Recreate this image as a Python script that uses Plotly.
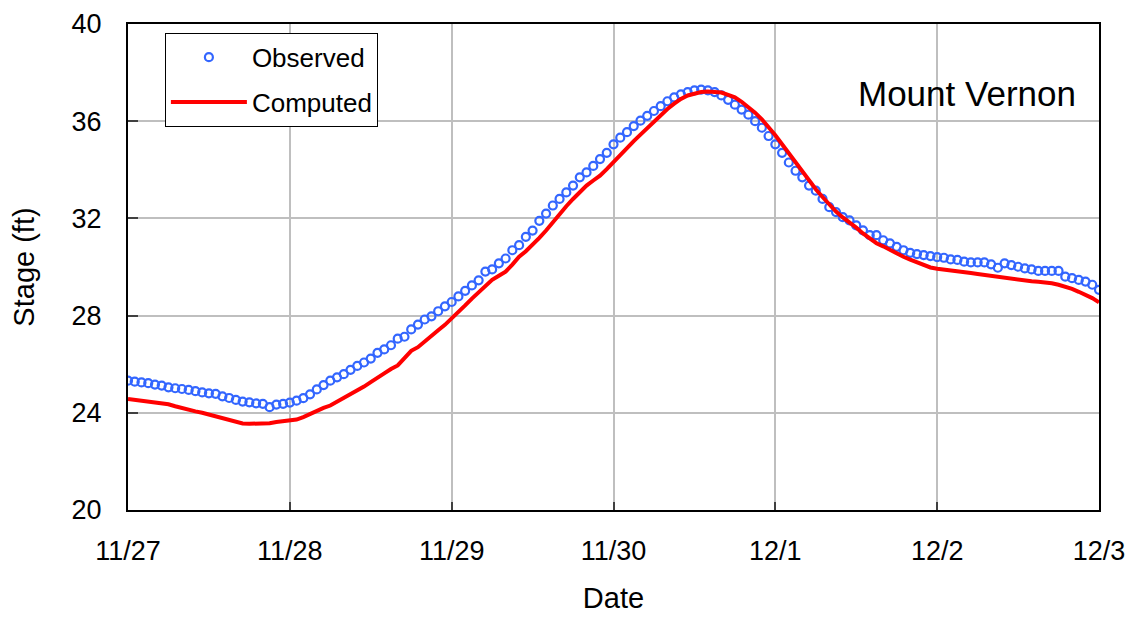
import pandas as pd
import plotly.graph_objects as go

# Hourly observed stage (ft), one list per day starting at 00:00
obs_nov27 = [25.32, 25.28, 25.25, 25.22, 25.16, 25.12, 25.05, 25.01, 24.98, 24.94, 24.89, 24.84,
             24.80, 24.78, 24.68, 24.61, 24.53, 24.46, 24.43, 24.39, 24.37, 24.23, 24.34, 24.37]
obs_nov28 = [24.42, 24.50, 24.60, 24.76, 24.96, 25.14, 25.32, 25.46, 25.59, 25.77, 25.93, 26.07,
             26.23, 26.47, 26.61, 26.78, 27.05, 27.13, 27.43, 27.63, 27.84, 27.97, 28.18, 28.38]
obs_nov29 = [28.56, 28.79, 29.02, 29.24, 29.45, 29.81, 29.90, 30.15, 30.35, 30.69, 30.90, 31.24,
             31.50, 31.90, 32.20, 32.53, 32.80, 33.07, 33.35, 33.69, 33.89, 34.16, 34.44, 34.70]
obs_nov30 = [35.05, 35.32, 35.55, 35.80, 36.02, 36.22, 36.42, 36.62, 36.82, 36.98, 37.10, 37.20,
             37.27, 37.30, 37.27, 37.20, 37.06, 36.88, 36.68, 36.48, 36.27, 36.00, 35.73, 35.39]
obs_dec01 = [35.05, 34.70, 34.30, 33.96, 33.69, 33.35, 33.14, 32.80, 32.46, 32.26, 32.05, 31.92,
             31.71, 31.51, 31.31, 31.31, 31.10, 30.97, 30.83, 30.69, 30.58, 30.53, 30.49, 30.45]
obs_dec02 = [30.41, 30.38, 30.31, 30.29, 30.22, 30.19, 30.19, 30.19, 30.11, 29.97, 30.15, 30.08,
             30.01, 29.94, 29.90, 29.84, 29.84, 29.84, 29.84, 29.60, 29.54, 29.47, 29.40, 29.27]
obs_dec03 = [29.06]

# Hourly computed stage (ft)
cmp_nov27 = [24.57, 24.54, 24.50, 24.47, 24.43, 24.41, 24.35, 24.27, 24.19, 24.13, 24.06, 24.00,
             23.93, 23.86, 23.78, 23.70, 23.62, 23.56, 23.55, 23.55, 23.55, 23.57, 23.62, 23.65]
cmp_nov28 = [23.67, 23.72, 23.82, 23.96, 24.09, 24.20, 24.30, 24.45, 24.60, 24.75, 24.92, 25.08,
             25.26, 25.46, 25.62, 25.80, 25.95, 26.25, 26.55, 26.70, 26.95, 27.18, 27.40, 27.62]
cmp_nov29 = [27.87, 28.15, 28.42, 28.70, 28.95, 29.20, 29.47, 29.64, 29.81, 30.10, 30.42, 30.65,
             30.90, 31.20, 31.50, 31.85, 32.20, 32.50, 32.80, 33.08, 33.35, 33.56, 33.76, 34.03]
cmp_nov30 = [34.33, 34.62, 34.92, 35.18, 35.45, 35.72, 35.98, 36.25, 36.50, 36.72, 36.92, 37.06,
             37.15, 37.20, 37.22, 37.21, 37.18, 37.08, 36.98, 36.80, 36.60, 36.35, 36.08, 35.78]
cmp_dec01 = [35.42, 35.05, 34.68, 34.30, 33.90, 33.52, 33.20, 32.88, 32.57, 32.28, 32.04, 31.84,
             31.62, 31.38, 31.16, 30.98, 30.85, 30.70, 30.55, 30.42, 30.30, 30.19, 30.08, 29.98]
cmp_dec02 = [29.93, 29.90, 29.88, 29.84, 29.79, 29.75, 29.71, 29.67, 29.63, 29.59, 29.55, 29.50,
             29.46, 29.43, 29.41, 29.39, 29.37, 29.33, 29.27, 29.20, 29.10, 28.98, 28.86, 28.72]
cmp_dec03 = [28.55]

observed = obs_nov27 + obs_nov28 + obs_nov29 + obs_nov30 + obs_dec01 + obs_dec02 + obs_dec03
computed = cmp_nov27 + cmp_nov28 + cmp_nov29 + cmp_nov30 + cmp_dec01 + cmp_dec02 + cmp_dec03

start_time = "2008-11-27 00:00"
end_time = "2008-12-03 00:00"
times = pd.date_range(start_time, periods=len(observed), freq="h")

station = "Mount Vernon"
y_ticks = [20, 24, 28, 32, 36, 40]

font_family = "Liberation Sans, Arial, sans-serif"

fig = go.Figure()
fig.add_trace(go.Scatter(
    x=times, y=observed, mode="markers", name="Observed",
    marker=dict(symbol="circle-open", size=8, color="#3366FF",
                line=dict(width=2.2, color="#3366FF")),
    legendgroup="a",
))
fig.add_trace(go.Scatter(
    x=times, y=computed, mode="lines", name="Computed",
    line=dict(color="#FF0000", width=4),
    legendgroup="b",
))

# page body has an 8px default margin, so the figure is sized to fit inside it
fig.update_layout(
    width=1125, height=609,
    margin=dict(l=120, r=34, t=16, b=107),
    paper_bgcolor="white", plot_bgcolor="white",
    font=dict(family=font_family, size=27, color="black"),
    showlegend=True,
    legend=dict(
        x=0.038, y=0.982, xanchor="left", yanchor="top",
        bgcolor="white", bordercolor="black", borderwidth=1,
        font=dict(size=26), traceorder="grouped", tracegroupgap=8,
        itemwidth=76,
    ),
    annotations=[dict(
        text=station, xref="paper", yref="paper", x=0.978, y=0.858,
        xanchor="right", yanchor="middle", showarrow=False,
        font=dict(size=35, color="black"),
    )],
)

fig.update_xaxes(
    type="date", range=[start_time, end_time],
    dtick=86400000, tick0=start_time, tickformat="%-m/%-d",
    showgrid=True, gridcolor="#BFBFBF", gridwidth=1.5,
    showline=True, linecolor="black", linewidth=2, mirror=True,
    ticks="inside", ticklen=8, tickcolor="#404040", tickwidth=1.5,
    ticklabelstandoff=16, automargin=False,
    title=dict(text="Date", font=dict(size=29), standoff=22),
    zeroline=False,
)
fig.update_yaxes(
    range=[20, 40], tickvals=y_ticks,
    showgrid=True, gridcolor="#BFBFBF", gridwidth=1.5,
    showline=True, linecolor="black", linewidth=2, mirror=True,
    ticks="inside", ticklen=10, tickcolor="#404040", tickwidth=1.5,
    ticklabelstandoff=19, automargin=False,
    title=dict(text="Stage (ft)", font=dict(size=29), standoff=31),
    zeroline=False,
)

fig.write_html("out.html")
